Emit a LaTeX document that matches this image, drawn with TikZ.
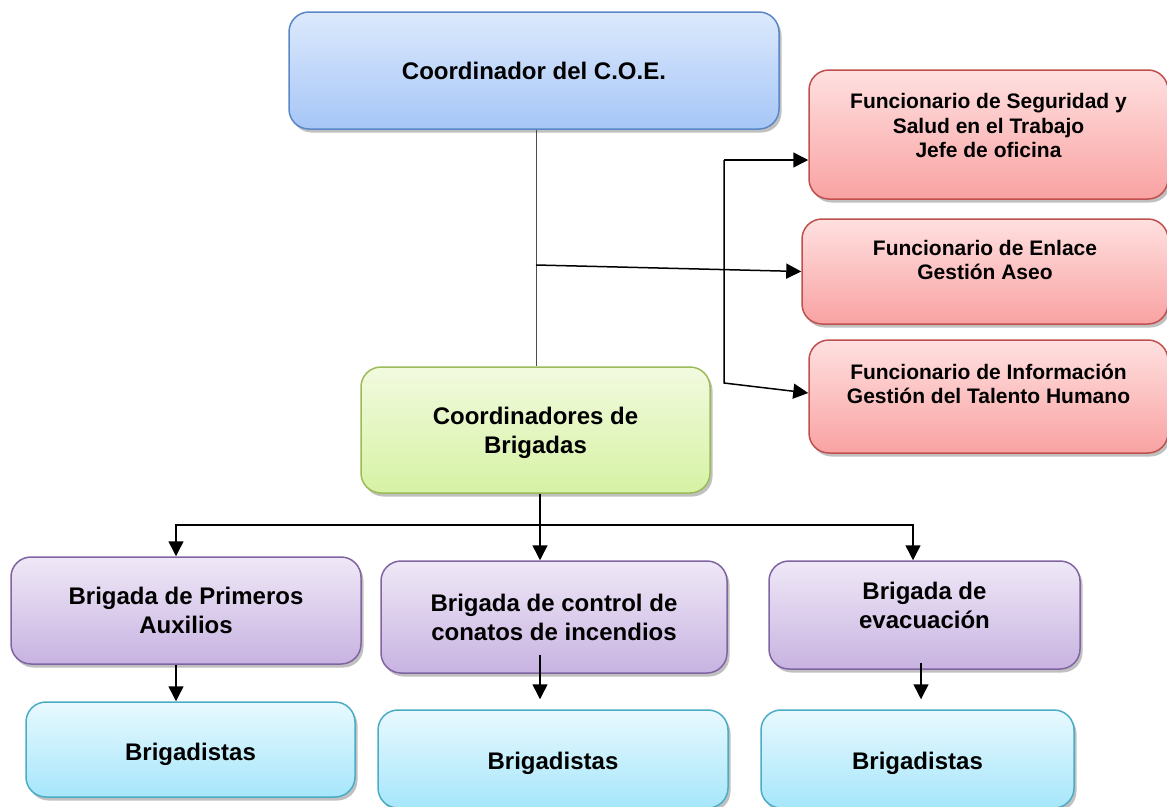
\documentclass[tikz,border=0pt]{standalone}
\usepackage{fontspec}
\setmainfont{Liberation Sans}
\usetikzlibrary{shadows,arrows.meta,calc}
\newcommand\bxt[2][0pt]{\raisebox{\dimexpr #1-9pt\relax}[0pt][0pt]{\begin{tabular}{@{}c@{}}#2\end{tabular}}}
\definecolor{bT}{HTML}{DCE9FC}\definecolor{bB}{HTML}{A6C6F7}\definecolor{bD}{HTML}{5A87C5}
\definecolor{rT}{HTML}{FFE0E0}\definecolor{rB}{HTML}{F9A2A2}\definecolor{rD}{HTML}{C0504D}
\definecolor{gT}{HTML}{F2FADF}\definecolor{gB}{HTML}{D6F2A4}\definecolor{gD}{HTML}{9BBB59}
\definecolor{pT}{HTML}{EFE8F7}\definecolor{pB}{HTML}{C8B3E1}\definecolor{pD}{HTML}{8064A2}
\definecolor{cT}{HTML}{E8F9FE}\definecolor{cB}{HTML}{A6E6FB}\definecolor{cD}{HTML}{4BACC6}
\tikzset{
  basebox/.style={rounded corners=20pt, line width=1.5pt, inner sep=0pt,
    drop shadow={shadow xshift=2.5pt, shadow yshift=-3.5pt, opacity=0.35, fill=black!70},
    font=\fontsize{24}{29}\selectfont\bfseries},
  coebox/.style={basebox, draw=bD, top color=bT, bottom color=bB},
  redbox/.style={basebox, draw=rD, top color=rT, bottom color=rB,
    font=\fontsize{21}{24.5}\selectfont\bfseries},
  greenbox/.style={basebox, draw=gD, top color=gT, bottom color=gB},
  purplebox/.style={basebox, draw=pD, top color=pT, bottom color=pB},
  cyanbox/.style={basebox, draw=cD, top color=cT, bottom color=cB},
  arr/.style={line width=1.5pt, -{Triangle[length=15pt,width=15pt]}},
  thinline/.style={line width=1pt, draw=black!70}
}
\begin{document}
\begin{tikzpicture}[x=1pt,y=-1pt]
\path[use as bounding box, fill=white] (0,0) rectangle (1167,806);

\node[coebox, minimum width=490pt, minimum height=117pt] (coe) at (534,70.5) {\bxt{Coordinador del C.O.E.}};

\node[redbox, minimum width=359pt, minimum height=129pt] (red1) at (988.5,134.5)
  {\bxt[10pt]{Funcionario de Seguridad y\\Salud en el Trabajo\\Jefe de oficina}};
\node[redbox, minimum width=366pt, minimum height=105pt] (red2) at (985,271.5)
  {\bxt[12.5pt]{Funcionario de Enlace\\Gestión Aseo}};
\node[redbox, minimum width=359pt, minimum height=113pt] (red3) at (988.5,396.5)
  {\bxt[13.5pt]{Funcionario de Información\\Gestión del Talento Humano}};

\node[greenbox, minimum width=349pt, minimum height=126pt] (green) at (535.5,430)
  {\bxt{Coordinadores de\\Brigadas}};

\node[purplebox, minimum width=350pt, minimum height=107pt] (p1) at (186,610.5)
  {\bxt{Brigada de Primeros\\Auxilios}};
\node[purplebox, minimum width=346pt, minimum height=112pt] (p2) at (554,617)
  {\bxt{Brigada de control de\\conatos de incendios}};
\node[purplebox, minimum width=311pt, minimum height=108pt] (p3) at (924.5,615)
  {\bxt[10pt]{Brigada de\\evacuación}};

\node[cyanbox, minimum width=329pt, minimum height=95pt] (b1) at (190.5,749.5) {\bxt[-2pt]{Brigadistas}};
\node[cyanbox, minimum width=350pt, minimum height=98pt] (b2) at (553,759) {\bxt[-2pt]{Brigadistas}};
\node[cyanbox, minimum width=313pt, minimum height=98pt] (b3) at (917.5,759) {\bxt[-2pt]{Brigadistas}};

% connectors
\draw[thinline] ([xshift=2pt]coe.south) -- ([xshift=2pt]coe.south |- green.north);
\coordinate (j1) at (536,265);
\draw[arr] (j1) -- (red2.west);
\coordinate (k1) at (724,160);
\coordinate (k2) at (724,383);
\draw[arr] (k1) -- (red1.west |- k1);
\draw[arr] (k1) -- (k2) -- ([yshift=3.5pt]red3.west);

\draw[arr] ([xshift=4.5pt]green.south) -- ([xshift=4.5pt]green.south |- p2.north);
\coordinate (h) at (540,525);
\draw[arr] (h) -| ([xshift=-10pt]p1.north);
\draw[arr] (h) -| ([xshift=-11.5pt]p3.north);

\draw[arr] ([xshift=-10pt]p1.south) -- ([xshift=-10pt]p1.south |- b1.north);
\draw[arr] ([xshift=-14pt,yshift=19pt]p2.south) -- ([xshift=-14pt,yshift=10pt]p2.south |- b2.north);
\draw[arr] ([xshift=-3.5pt,yshift=7pt]p3.south) -- ([xshift=-3.5pt,yshift=10pt]p3.south |- b3.north);
\end{tikzpicture}
\end{document}
